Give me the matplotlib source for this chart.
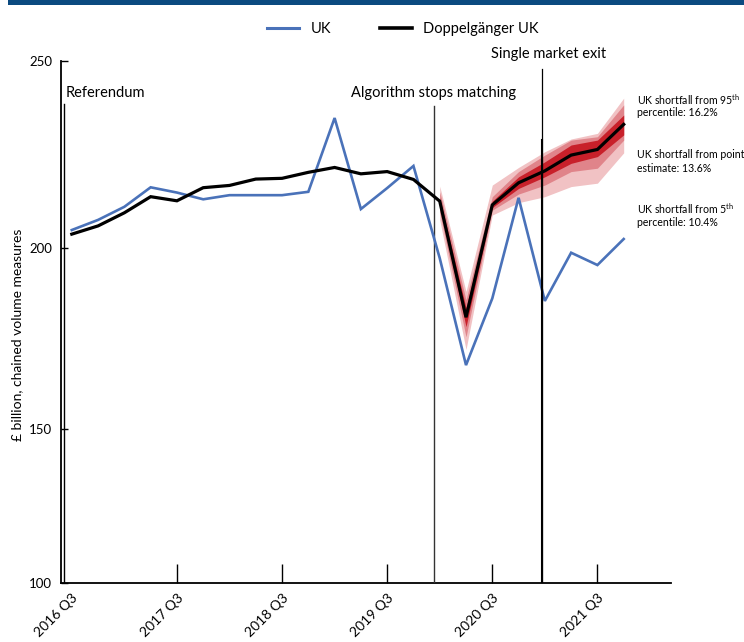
import numpy as np
import matplotlib
matplotlib.use("Agg")
import matplotlib.pyplot as plt
from matplotlib.lines import Line2D
from matplotlib.patches import Rectangle

plt.rcParams["font.family"] = ["Lato", "DejaVu Sans"]
plt.rcParams["mathtext.fontset"] = "custom"
plt.rcParams["mathtext.rm"] = "Lato"

# Quarterly GDP, 2016 Q3 to 2021 Q4 (index 0 = 2016 Q3)
uk = [204.8, 207.5, 211.0, 216.2, 214.8, 213.0, 214.1, 214.1, 214.1, 215.0, 234.7,
      210.4, 216.0, 221.9, 197.2, 167.7, 186.1, 213.4, 185.4, 198.7, 195.3, 202.4]
doppelganger = [203.7, 205.9, 209.4, 213.7, 212.6, 216.1, 216.7, 218.4, 218.6, 220.2, 221.5,
                219.8, 220.4, 218.3, 212.5, 180.9, 211.5, 217.4, 220.6, 224.8, 226.3, 233.0]

# Fan bands for the doppelganger estimate, from 2020 Q1 onwards
fan_start = 14
band_outer_lo = [207.5, 172.0, 208.8, 212.1, 213.7, 216.4, 217.3, 225.4]
band_outer_hi = [216.5, 188.0, 216.8, 221.5, 225.7, 229.1, 230.6, 240.0]
band_mid_lo = [209.5, 175.5, 210.1, 214.4, 216.8, 220.4, 221.3, 228.8]
band_mid_hi = [215.0, 185.7, 213.7, 220.4, 224.8, 228.8, 229.7, 238.2]
band_inner_lo = [211.5, 178.3, 210.8, 215.9, 219.0, 222.6, 224.4, 230.2]
band_inner_hi = [213.5, 183.5, 212.5, 219.0, 223.0, 227.5, 228.8, 235.5]

tick_positions = [0, 4, 8, 12, 16, 20]
tick_labels = ["2016 Q3", "2017 Q3", "2018 Q3", "2019 Q3", "2020 Q3", "2021 Q3"]
y_ticks = [100, 150, 200, 250]

# Event markers (quarter index)
events = [(-0.28, "Referendum"), (13.77, "Algorithm stops matching"), (17.9, "Single market exit")]

BLUE = "#4a72b9"
NAVY = "#0b4a80"

# Uneven vertical axis: each 50-unit step has its own height
_vals = np.array([100.0, 150.0, 200.0, 250.0])
_pos = np.array([0.0, 154.0, 335.3, 522.6])


def _fwd(v):
    v = np.asarray(v, dtype=float)
    out = np.interp(v, _vals, _pos)
    lo = v < _vals[0]
    hi = v > _vals[-1]
    out = np.where(lo, _pos[0] + (v - _vals[0]) * (_pos[1] - _pos[0]) / 50.0, out)
    out = np.where(hi, _pos[-1] + (v - _vals[-1]) * (_pos[-1] - _pos[-2]) / 50.0, out)
    return out


def _inv(p):
    p = np.asarray(p, dtype=float)
    out = np.interp(p, _pos, _vals)
    lo = p < _pos[0]
    hi = p > _pos[-1]
    out = np.where(lo, _vals[0] + (p - _pos[0]) * 50.0 / (_pos[1] - _pos[0]), out)
    out = np.where(hi, _vals[-1] + (p - _pos[-1]) * 50.0 / (_pos[-1] - _pos[-2]), out)
    return out


W, H = 744, 642
fig = plt.figure(figsize=(W / 100, H / 100), dpi=100)
ax = fig.add_axes([60.5 / W, 1 - 583.3 / H, (671 - 60.5) / W, (583.3 - 60.7) / H])
ax.set_yscale("function", functions=(_fwd, _inv))

x = np.arange(len(uk))
xf = np.arange(fan_start, fan_start + len(band_outer_lo))

ax.fill_between(xf, band_outer_lo, band_outer_hi, color="#f1c2c4", lw=0, zorder=1)
ax.fill_between(xf, band_mid_lo, band_mid_hi, color="#e0848a", lw=0, zorder=2)
ax.fill_between(xf, band_inner_lo, band_inner_hi, color="#c8202a", lw=0, zorder=3)

ax.plot(x, uk, color=BLUE, lw=1.9, zorder=5, solid_joinstyle="miter")
ax.plot(x, doppelganger, color="black", lw=2.3, zorder=6, solid_joinstyle="miter")

# Event lines and labels
ref_x, ref_label = events[0]
ax.plot([ref_x, ref_x], [100, 238.5], color="black", lw=1.0, zorder=4)
ax.text(ref_x + 0.05, 241.3, ref_label, fontsize=10.5, ha="left", va="center")

alg_x, alg_label = events[1]
ax.plot([alg_x, alg_x], [100, 237.8], color="#333333", lw=1.0, zorder=4)
ax.text(alg_x, 241.3, alg_label, fontsize=10.5, ha="center", va="center")

sm_x, sm_label = events[2]
ax.plot([sm_x, sm_x], [100, 247.9], color="black", lw=0.9, zorder=7)
ax.plot([sm_x, sm_x], [100, 228.8], color="black", lw=1.5, zorder=7)
ax.text(sm_x + 0.25, 251.7, sm_label, fontsize=10.5, ha="center", va="center", clip_on=False)

ax.set_xlim(-0.43, 22.8)
ax.set_ylim(100, 250)
ax.set_xticks(tick_positions)
ax.set_xticklabels(tick_labels, rotation=45, ha="right", rotation_mode="anchor", fontsize=10)
ax.set_yticks(y_ticks)
ax.set_yticklabels([str(t) for t in y_ticks], fontsize=9.5)
ax.tick_params(axis="x", direction="in", length=13.5, width=1.0, pad=6)
ax.tick_params(axis="y", direction="in", length=5, width=1.0, pad=6)
ax.minorticks_off()
# the first quarter sits against the referendum line, so its tick mark is left out
ax.xaxis.get_major_ticks()[0].tick1line.set_visible(False)

for side in ("top", "right"):
    ax.spines[side].set_visible(False)
for side in ("left", "bottom"):
    ax.spines[side].set_linewidth(1.3)

fig.text(17 / W, 1 - 335 / H, "£ billion, chained volume measures", fontsize=10,
         rotation=90, ha="center", va="center")

# Shortfall notes to the right of the fan
notes = [
    (100, "UK shortfall from 95$^{\\mathrm{th}}$", 113, "percentile: 16.2%"),
    (155, "UK shortfall from point", 168, "estimate: 13.6%"),
    (209, "UK shortfall from 5$^{\\mathrm{th}}$", 223, "percentile: 10.4%"),
]
for y1, t1, y2, t2 in notes:
    fig.text(637 / W, 1 - y1 / H, t1, fontsize=7.6, ha="left", va="center")
    fig.text(637 / W, 1 - y2 / H, t2, fontsize=7.6, ha="left", va="center")

# Legend
handles = [Line2D([], [], color=BLUE, lw=2.2), Line2D([], [], color="black", lw=2.6)]
fig.legend(handles, ["UK", "Doppelgänger UK"], loc="center", bbox_to_anchor=(403 / W, 1 - 29 / H),
           ncol=2, frameon=False, fontsize=10.5, handlelength=2.2, columnspacing=3.3,
           handletextpad=0.8)

# Header band
fig.add_artist(Rectangle((8 / W, 1 - 5 / H), 1, 5 / H, transform=fig.transFigure,
                         color=NAVY, lw=0))

fig.savefig("out.png", dpi=100)
